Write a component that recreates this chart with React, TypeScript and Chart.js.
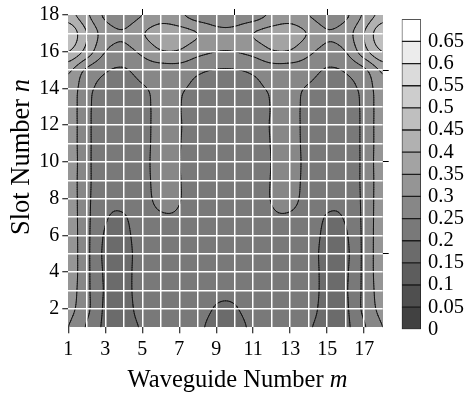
import React, { useEffect, useRef } from 'react';
import { Chart, registerables } from 'chart.js';

Chart.register(...registerables);

// Waveguide numbers (m) and slot numbers (n)
const waveguides = [1, 2, 3, 4, 5, 6, 7, 8, 9, 10, 11, 12, 13, 14, 15, 16, 17, 18];
const slots = [1, 2, 3, 4, 5, 6, 7, 8, 9, 10, 11, 12, 13, 14, 15, 16, 17, 18];

// Normalized amplitude per slot row (n = 1 .. 18), one value per waveguide m = 1 .. 18
const slot01 = [0.30, 0.245, 0.19, 0.182, 0.205, 0.225, 0.23, 0.21, 0.185, 0.185, 0.21, 0.23, 0.225, 0.205, 0.182, 0.19, 0.245, 0.30];
const slot02 = [0.315, 0.262, 0.192, 0.182, 0.218, 0.225, 0.232, 0.218, 0.197, 0.197, 0.218, 0.232, 0.225, 0.218, 0.182, 0.192, 0.262, 0.315];
const slot03 = [0.325, 0.262, 0.195, 0.183, 0.225, 0.228, 0.235, 0.22, 0.208, 0.208, 0.22, 0.235, 0.228, 0.225, 0.183, 0.195, 0.262, 0.325];
const slot04 = [0.33, 0.262, 0.193, 0.183, 0.225, 0.23, 0.236, 0.222, 0.215, 0.215, 0.222, 0.236, 0.23, 0.225, 0.183, 0.193, 0.262, 0.33];
const slot05 = [0.33, 0.262, 0.19, 0.183, 0.222, 0.23, 0.238, 0.222, 0.217, 0.217, 0.222, 0.238, 0.23, 0.222, 0.183, 0.19, 0.262, 0.33];
const slot06 = [0.33, 0.262, 0.195, 0.188, 0.225, 0.235, 0.24, 0.222, 0.218, 0.218, 0.222, 0.24, 0.235, 0.225, 0.188, 0.195, 0.262, 0.33];
const slot07 = [0.33, 0.262, 0.205, 0.197, 0.228, 0.245, 0.245, 0.223, 0.218, 0.218, 0.223, 0.245, 0.245, 0.228, 0.197, 0.205, 0.262, 0.33];
const slot08 = [0.33, 0.262, 0.215, 0.212, 0.232, 0.262, 0.252, 0.225, 0.22, 0.22, 0.225, 0.252, 0.262, 0.232, 0.212, 0.215, 0.262, 0.33];
const slot09 = [0.33, 0.262, 0.222, 0.218, 0.235, 0.265, 0.252, 0.225, 0.22, 0.22, 0.225, 0.252, 0.265, 0.235, 0.218, 0.222, 0.262, 0.33];
const slot10 = [0.332, 0.262, 0.222, 0.218, 0.236, 0.266, 0.251, 0.224, 0.22, 0.22, 0.224, 0.251, 0.266, 0.236, 0.218, 0.222, 0.262, 0.332];
const slot11 = [0.33, 0.262, 0.222, 0.218, 0.235, 0.265, 0.252, 0.225, 0.22, 0.22, 0.225, 0.252, 0.265, 0.235, 0.218, 0.222, 0.262, 0.33];
const slot12 = [0.33, 0.262, 0.222, 0.218, 0.235, 0.264, 0.253, 0.226, 0.221, 0.221, 0.226, 0.253, 0.264, 0.235, 0.218, 0.222, 0.262, 0.33];
const slot13 = [0.33, 0.262, 0.225, 0.22, 0.237, 0.262, 0.252, 0.227, 0.222, 0.222, 0.227, 0.252, 0.262, 0.237, 0.22, 0.225, 0.262, 0.33];
const slot14 = [0.335, 0.265, 0.235, 0.225, 0.245, 0.26, 0.255, 0.24, 0.23, 0.23, 0.24, 0.255, 0.26, 0.245, 0.225, 0.235, 0.265, 0.335];
const slot15 = [0.36, 0.29, 0.255, 0.245, 0.27, 0.275, 0.275, 0.258, 0.248, 0.248, 0.258, 0.275, 0.275, 0.27, 0.245, 0.255, 0.29, 0.36];
const slot16 = [0.45, 0.38, 0.30, 0.285, 0.31, 0.345, 0.345, 0.315, 0.30, 0.30, 0.315, 0.345, 0.345, 0.31, 0.285, 0.30, 0.38, 0.45];
const slot17 = [0.49, 0.40, 0.325, 0.305, 0.345, 0.375, 0.37, 0.35, 0.315, 0.315, 0.35, 0.37, 0.375, 0.345, 0.305, 0.325, 0.40, 0.49];
const slot18 = [0.42, 0.36, 0.29, 0.27, 0.30, 0.325, 0.31, 0.275, 0.27, 0.27, 0.275, 0.31, 0.325, 0.30, 0.27, 0.29, 0.36, 0.42];

const fieldRows = [slot01, slot02, slot03, slot04, slot05, slot06, slot07, slot08, slot09,
  slot10, slot11, slot12, slot13, slot14, slot15, slot16, slot17, slot18];

// Contour levels / colour bar
const levelStep = 0.05;
const colorbarLevels = [0, 0.05, 0.1, 0.15, 0.2, 0.25, 0.3, 0.35, 0.4, 0.45, 0.5, 0.55, 0.6, 0.65];
const levelColors = ['#414141', '#4f4f4f', '#5d5d5d', '#6b6b6b', '#797979', '#878787', '#959595',
  '#a3a3a3', '#b1b1b1', '#bfbfbf', '#cdcdcd', '#dbdbdb', '#ececec', '#ffffff'];
const colorbarMax = 0.7;

// Axis ticks
const xLabelTicks = [1, 3, 5, 7, 9, 11, 13, 15, 17];
const yLabelTicks = [2, 4, 6, 8, 10, 12, 14, 16, 18];
const minorTicks = [5, 10, 15];

const FONT = "'Liberation Serif', 'Times New Roman', serif";

function gridValue(i: number, j: number): number {
  const ii = Math.max(0, Math.min(waveguides.length - 1, i));
  const jj = Math.max(0, Math.min(slots.length - 1, j));
  return fieldRows[jj][ii];
}

function cr(p0: number, p1: number, p2: number, p3: number, t: number): number {
  return 0.5 * (2 * p1 + (-p0 + p2) * t + (2 * p0 - 5 * p1 + 4 * p2 - p3) * t * t + (-p0 + 3 * p1 - 3 * p2 + p3) * t * t * t);
}

// value of the field at (m, n) (bicubic through the grid nodes)
function fieldAt(m: number, n: number): number {
  const tx = Math.max(0, Math.min(waveguides.length - 1, m - waveguides[0]));
  const ty = Math.max(0, Math.min(slots.length - 1, n - slots[0]));
  let i = Math.floor(tx); if (i > waveguides.length - 2) i = waveguides.length - 2;
  let j = Math.floor(ty); if (j > slots.length - 2) j = slots.length - 2;
  const fx = tx - i, fy = ty - j;
  const rows: number[] = [];
  for (let k = -1; k <= 2; k++) {
    rows.push(cr(gridValue(i - 1, j + k), gridValue(i, j + k), gridValue(i + 1, j + k), gridValue(i + 2, j + k), fx));
  }
  return cr(rows[0], rows[1], rows[2], rows[3], fy);
}

function hexRgb(h: string): number[] {
  return [parseInt(h.slice(1, 3), 16), parseInt(h.slice(3, 5), 16), parseInt(h.slice(5, 7), 16)];
}

const contourPlugin = {
  id: 'contourField',
  beforeDatasetsDraw(chart: any) {
    const { ctx, chartArea: a, scales } = chart;
    const xs = scales.x, ys = scales.y;
    const left = Math.round(a.left), top = Math.round(a.top);
    const w = Math.round(a.right) - left, h = Math.round(a.bottom) - top;
    const off = document.createElement('canvas');
    off.width = w; off.height = h;
    const octx = off.getContext('2d')!;
    const img = octx.createImageData(w, h);
    const rgb = levelColors.map(hexRgb);
    for (let py = 0; py < h; py++) {
      const n = ys.getValueForPixel(top + py + 0.5);
      for (let px = 0; px < w; px++) {
        const m = xs.getValueForPixel(left + px + 0.5);
        const v = fieldAt(m, n);
        let k = Math.floor(v / levelStep);
        if (k < 0) k = 0; if (k >= rgb.length) k = rgb.length - 1;
        const o = (py * w + px) * 4;
        img.data[o] = rgb[k][0]; img.data[o + 1] = rgb[k][1]; img.data[o + 2] = rgb[k][2]; img.data[o + 3] = 255;
      }
    }
    octx.putImageData(img, 0, 0);
    ctx.save();
    ctx.drawImage(off, left, top);

    // contour lines by marching squares on a fine sampling of the field
    const sub = 8;
    const m0 = waveguides[0], m1 = waveguides[waveguides.length - 1];
    const n0 = slots[0], n1 = slots[slots.length - 1];
    const NX = (m1 - m0) * sub + 1, NY = (n1 - n0) * sub + 1;
    const V: number[][] = [];
    for (let j = 0; j < NY; j++) {
      const row: number[] = [];
      for (let i = 0; i < NX; i++) row.push(fieldAt(m0 + i / sub, n0 + j / sub));
      V.push(row);
    }
    ctx.beginPath();
    ctx.rect(a.left, a.top, a.right - a.left, a.bottom - a.top);
    ctx.clip();
    ctx.strokeStyle = '#151515';
    ctx.lineWidth = 1;
    ctx.lineCap = 'round';
    ctx.beginPath();
    const P = (m: number, n: number) => [xs.getPixelForValue(m), ys.getPixelForValue(n)];
    for (const L of colorbarLevels.slice(1)) {
      for (let j = 0; j < NY - 1; j++) {
        for (let i = 0; i < NX - 1; i++) {
          const c = [V[j][i], V[j][i + 1], V[j + 1][i + 1], V[j + 1][i]];
          const cm = [m0 + i / sub, m0 + (i + 1) / sub, m0 + (i + 1) / sub, m0 + i / sub];
          const cn = [n0 + j / sub, n0 + j / sub, n0 + (j + 1) / sub, n0 + (j + 1) / sub];
          const above = c.map((v) => v >= L);
          const cnt = above.filter(Boolean).length;
          if (cnt === 0 || cnt === 4) continue;
          const edgePt = (e: number) => {
            const p = e, q = (e + 1) % 4;
            const t = (L - c[p]) / (c[q] - c[p]);
            return P(cm[p] + (cm[q] - cm[p]) * t, cn[p] + (cn[q] - cn[p]) * t);
          };
          const cross: number[] = [];
          for (let e = 0; e < 4; e++) if (above[e] !== above[(e + 1) % 4]) cross.push(e);
          const seg = (e1: number, e2: number) => {
            const A = edgePt(e1), B = edgePt(e2);
            ctx.moveTo(A[0], A[1]); ctx.lineTo(B[0], B[1]);
          };
          if (cross.length === 2) {
            seg(cross[0], cross[1]);
          } else {
            const center = (c[0] + c[1] + c[2] + c[3]) / 4 >= L;
            for (let k = 0; k < 4; k++) {
              if (above[k] !== center) seg((k + 3) % 4, k);
            }
          }
        }
      }
    }
    ctx.stroke();
    ctx.restore();
  },
};

function drawMixed(ctx: CanvasRenderingContext2D, parts: [string, string][], cx: number, cy: number, size: number) {
  let total = 0;
  const widths = parts.map(([t, st]) => {
    ctx.font = `${st} ${size}px ${FONT}`;
    const wd = ctx.measureText(t).width;
    total += wd;
    return wd;
  });
  let x = cx - total / 2;
  parts.forEach(([t, st], k) => {
    ctx.font = `${st} ${size}px ${FONT}`;
    ctx.fillText(t, x, cy);
    x += widths[k];
  });
}

const titlePlugin = {
  id: 'axisTitles',
  afterDraw(chart: any) {
    const ctx = chart.ctx as CanvasRenderingContext2D;
    ctx.save();
    ctx.fillStyle = '#000';
    ctx.textAlign = 'left';
    ctx.textBaseline = 'alphabetic';
    drawMixed(ctx, [['Waveguide Number ', 'normal'], ['m', 'italic']], 237.5, 387, 24.5);
    ctx.translate(29, 157);
    ctx.rotate(-Math.PI / 2);
    drawMixed(ctx, [['Slot Number ', 'normal'], ['n', 'italic']], 0, 0, 26.5);
    ctx.restore();
  },
};

export default function App() {
  const mainRef = useRef<HTMLCanvasElement>(null);
  const barRef = useRef<HTMLCanvasElement>(null);

  useEffect(() => {
    const tickFont = { family: FONT, size: 20 };
    const edgeClear = (min: number, max: number) => (c: any) =>
      c.tick && (c.tick.value === min || c.tick.value === max) ? 'rgba(0,0,0,0)' : '#ffffff';
    const main = new Chart(mainRef.current!, {
      type: 'scatter',
      data: { datasets: [] },
      options: {
        animation: false,
        responsive: false,
        maintainAspectRatio: false,
        layout: { padding: 0 },
        plugins: { legend: { display: false }, tooltip: { enabled: false } },
        scales: {
          x: {
            type: 'linear', position: 'bottom', min: waveguides[0], max: waveguides[waveguides.length - 1],
            afterFit: (s: any) => { s.height = 67.7; },
            border: { display: false },
            grid: {
              z: 1,
              color: edgeClear(1, 18), lineWidth: 1.5,
              tickColor: (c: any) => (xLabelTicks.includes(c.tick?.value) ? '#000' : 'rgba(0,0,0,0)'),
              tickLength: 6, tickWidth: 1,
            },
            ticks: {
              stepSize: 1, autoSkip: false, maxRotation: 0, padding: 4, color: '#000', font: tickFont,
              callback: (v: any) => (xLabelTicks.includes(Number(v)) ? String(v) : ''),
            },
          },
          y: {
            type: 'linear', position: 'left', min: slots[0], max: slots[slots.length - 1],
            afterFit: (s: any) => { s.width = 68.3; },
            border: { display: false },
            grid: {
              z: 1,
              color: edgeClear(1, 18), lineWidth: 1.5,
              tickColor: (c: any) => (yLabelTicks.includes(c.tick?.value) ? '#000' : 'rgba(0,0,0,0)'),
              tickLength: 6, tickWidth: 1,
            },
            ticks: {
              stepSize: 1, autoSkip: false, padding: 3, color: '#000', font: tickFont,
              callback: (v: any) => (yLabelTicks.includes(Number(v)) ? String(v) : ''),
            },
          },
          x2: {
            type: 'linear', position: 'top', min: 1, max: 18,
            afterBuildTicks: (s: any) => { s.ticks = minorTicks.map((v) => ({ value: v })); },
            afterFit: (s: any) => { s.height = 13.3; },
            border: { display: false },
            grid: { z: 1, drawOnChartArea: false, tickLength: 6, tickColor: '#000', tickWidth: 1 },
            ticks: { display: false },
          },
          y2: {
            type: 'linear', position: 'right', min: 1, max: 18,
            afterBuildTicks: (s: any) => { s.ticks = minorTicks.map((v) => ({ value: v })); },
            afterFit: (s: any) => { s.width = 86.3; },
            border: { display: false },
            grid: { z: 1, drawOnChartArea: false, tickLength: 6, tickColor: '#000', tickWidth: 1 },
            ticks: { display: false },
          },
        },
      } as any,
      plugins: [contourPlugin, titlePlugin],
    });

    const bar = new Chart(barRef.current!, {
      type: 'bar',
      data: {
        labels: [''],
        datasets: levelColors.map((c, k) => ({
          label: String(colorbarLevels[k]),
          data: [levelStep],
          backgroundColor: c,
          borderColor: '#1c1c1c',
          borderWidth: 1,
          borderSkipped: false,
          barPercentage: 1,
          categoryPercentage: 1,
        })),
      },
      options: {
        animation: false,
        responsive: false,
        maintainAspectRatio: false,
        layout: { padding: { left: 21.7, top: 12.7, bottom: 65.7, right: 0 } },
        plugins: { legend: { display: false }, tooltip: { enabled: false } },
        scales: {
          x: { display: false, stacked: true },
          y: {
            stacked: true, position: 'right', min: 0, max: colorbarMax,
            afterFit: (s: any) => { s.width = 48; },
            grid: { display: false, drawTicks: false, tickLength: 0 },
            border: { display: false },
            ticks: {
              stepSize: levelStep, autoSkip: false, padding: 7, color: '#000', font: { family: FONT, size: 20.5 },
              callback: (v: any) => {
                const r = Math.round(Number(v) * 100) / 100;
                return r >= colorbarMax ? '' : String(r);
              },
            },
          },
        },
      } as any,
    });

    return () => { main.destroy(); bar.destroy(); };
  }, []);

  return (
    <div style={{ position: 'fixed', left: 0, top: 0, width: 469, height: 395, background: '#fff' }}>
      <canvas ref={mainRef} width={469} height={395} style={{ position: 'absolute', left: 0, top: 0 }} />
      <canvas ref={barRef} width={89} height={395} style={{ position: 'absolute', left: 380, top: 0 }} />
    </div>
  );
}
